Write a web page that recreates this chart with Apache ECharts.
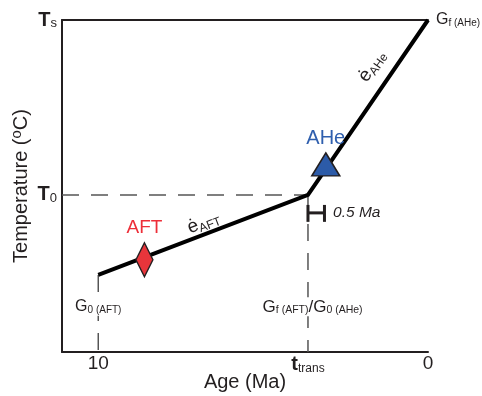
<!DOCTYPE html>
<html>
<head>
<meta charset="utf-8">
<script src="https://cdn.jsdelivr.net/npm/echarts@6/dist/echarts.min.js"></script>
<style>
  html, body { margin: 0; padding: 0; background: #fff; }
  #chart { width: 482px; height: 396px; }
</style>
</head>
<body>
<div id="chart"></div>
<script>
// Thermal history sketch: age (Ma, decreasing to the right) vs. temperature
// on a relative scale where the surface temperature Ts sits at 100.
const FONT = 'Liberation Sans';
const INK = '#231f20';

const pathAge = [10, 3.64, 0];
const pathTemp = [23.2, 47.3, 100];

const tTrans = 3.64;
const T0 = 47.3;
const Ts = 100;

const xTickValues = [10, 3.64, 0];
const xTickNames = ['10', 'ttrans', '0'];
const yTickValues = [47.3, 100];
const yTickNames = ['T0', 'Ts'];

const aftSample = [8.6, 27.8];
const aheSample = [3.1, 56.5];

const errorBarMa = 0.5;                  // horizontal width of the bar
const errorBarTemp = [39.2, 41.9, 44.3]; // leg bottom, bar level, leg top

const chart = echarts.init(document.getElementById('chart'), null, { renderer: 'canvas' });

// rich-text styles for a large letter followed by a small subscript;
// drop sets how far the subscript sits below the main baseline
function subStyles(big, small, bold, drop) {
  return {
    g: { fontFamily: FONT, fontSize: big, fontWeight: bold ? 'bold' : 'normal', color: INK,
         lineHeight: big + drop, verticalAlign: 'top' },
    s: { fontFamily: FONT, fontSize: small, color: INK, lineHeight: small, verticalAlign: 'bottom' },
    n: { fontFamily: FONT, fontSize: big, color: INK, lineHeight: big + drop, verticalAlign: 'top' }
  };
}

const pathData = pathAge.map((a, i) => [a, pathTemp[i]]);
const solid = { opacity: 1 };

const option = {
  animation: false,
  grid: { left: 62, right: 54, top: 20, bottom: 44, containLabel: false, outerBoundsMode: 'none' },
  xAxis: [{
    type: 'value', min: 0, max: 11.1, inverse: true, position: 'bottom',
    axisLine: { show: true, onZero: false, lineStyle: { color: INK, width: 2 } },
    axisTick: { show: false },
    splitLine: { show: false },
    axisLabel: {
      customValues: xTickValues,
      margin: 2,
      formatter: function (v) {
        const i = xTickValues.indexOf(v);
        if (xTickNames[i] === 'ttrans') return '{g|t}{s|trans}';
        return '{n|' + xTickNames[i] + '}';
      },
      rich: Object.assign(subStyles(20, 12, true, 1), {
        n: { fontFamily: FONT, fontSize: 19, color: INK, lineHeight: 21, verticalAlign: 'top' }
      })
    },
    name: 'Age (Ma)', nameLocation: 'middle', nameGap: 20, nameMoveOverlap: false,
    nameTextStyle: { fontFamily: FONT, fontSize: 20, color: INK, verticalAlign: 'top' }
  }, {
    type: 'value', min: 0, max: 11.1, inverse: true, position: 'top',
    axisLine: { show: true, onZero: false, lineStyle: { color: INK, width: 2 } },
    axisTick: { show: false }, axisLabel: { show: false }, splitLine: { show: false }
  }],
  yAxis: {
    type: 'value', min: 0, max: 100,
    axisLine: { show: true, onZero: false, lineStyle: { color: INK, width: 2 } },
    axisTick: { show: false },
    splitLine: { show: false },
    axisLabel: {
      customValues: yTickValues,
      margin: 5,
      formatter: function (v) {
        const name = yTickNames[yTickValues.indexOf(v)];
        return '{g|' + name[0] + '}{s|' + name.slice(1) + '}';
      },
      rich: subStyles(20, 13, true, 0)
    },
    name: '{n|Temperature (}{o|o}{n|C)}', nameLocation: 'middle', nameRotate: 90,
    nameGap: 31, nameMoveOverlap: false,
    nameTextStyle: {
      rich: {
        n: { fontFamily: FONT, fontSize: 20, color: INK, lineHeight: 22, verticalAlign: 'bottom' },
        o: { fontFamily: FONT, fontSize: 15, color: INK, lineHeight: 22, verticalAlign: 'top' }
      }
    }
  },
  series: [
    // reference levels
    {
      type: 'line', silent: true, symbol: 'none', z: 1,
      data: [[11.1, T0], [tTrans, T0]],
      lineStyle: { color: '#555', width: 1.5, type: [17, 12] }
    },
    {
      type: 'line', silent: true, symbol: 'none', z: 1,
      data: [[tTrans, T0], [tTrans, 0]],
      lineStyle: { color: '#555', width: 1.5, type: [17, 12] }
    },
    {
      type: 'line', silent: true, symbol: 'none', z: 1,
      data: [[pathAge[0], pathTemp[0]], [pathAge[0], 0]],
      lineStyle: { color: '#555', width: 1.5, type: [17, 12] }
    },
    // cooling path
    {
      type: 'line', silent: true, symbol: 'none', z: 3,
      data: pathData,
      lineStyle: { color: '#000', width: 4, join: 'miter', cap: 'butt' }
    },
    // 0.5 Ma bar
    {
      type: 'custom', silent: true, z: 4,
      data: [[tTrans, tTrans - errorBarMa, errorBarTemp[0], errorBarTemp[1], errorBarTemp[2]]],
      renderItem: function (params, api) {
        const xa = api.value(0), xb = api.value(1);
        const lo = api.value(2), mid = api.value(3), hi = api.value(4);
        const pa = api.coord([xa, mid]), pb = api.coord([xb, mid]);
        const top = api.coord([xa, hi])[1], bot = api.coord([xa, lo])[1];
        const st = { stroke: INK, lineWidth: 3 };
        return {
          type: 'group',
          children: [
            { type: 'line', shape: { x1: pa[0], y1: pa[1], x2: pb[0], y2: pb[1] }, style: st },
            { type: 'line', shape: { x1: pa[0], y1: top, x2: pa[0], y2: bot }, style: st },
            { type: 'line', shape: { x1: pb[0], y1: top, x2: pb[0], y2: bot }, style: st }
          ]
        };
      }
    },
    // AFT sample
    {
      type: 'scatter', silent: true, z: 5, clip: false,
      symbol: 'diamond', symbolSize: [17, 34],
      itemStyle: { color: '#e8353b', borderColor: INK, borderWidth: 1.5, opacity: 1 },
      data: [aftSample],
      label: {
        show: true, position: 'top', distance: 4, formatter: 'AFT',
        fontFamily: FONT, fontSize: 19, color: '#ed2e38'
      }
    },
    // AHe sample
    {
      type: 'scatter', silent: true, z: 5, clip: false,
      symbol: 'triangle', symbolSize: [28, 23],
      itemStyle: { color: '#2c5ba8', borderColor: INK, borderWidth: 1.5, opacity: 1 },
      data: [aheSample],
      label: {
        show: true, position: 'top', distance: 4, formatter: 'AHe',
        fontFamily: FONT, fontSize: 20, color: '#2f5fae'
      }
    },
    // text annotations
    {
      type: 'scatter', silent: true, z: 6, clip: false, symbolSize: 0,
      itemStyle: solid,
      data: [
        {
          value: [pathAge[2], pathTemp[2]],
          label: { show: true, position: 'right', distance: 8,
                   formatter: '{g|G}{s|f (AHe)}', rich: subStyles(16, 10, false, 0) }
        },
        {
          value: [pathAge[0], 13.6],
          label: { show: true, position: 'inside', formatter: '{g|G}{s|0 (AFT)}',
                   backgroundColor: '#fff', padding: [1, 1],
                   rich: subStyles(16, 10, false, 0) }
        },
        {
          value: [tTrans - 0.14, 13.6],
          label: { show: true, position: 'inside',
                   formatter: '{g|G}{s|f (AFT)}{n|/}{g|G}{s|0 (AHe)}',
                   backgroundColor: '#fff', padding: [1, 1],
                   rich: subStyles(17, 10.5, false, 0) }
        },
        {
          value: [tTrans - 0.76, errorBarTemp[1]],
          label: { show: true, position: 'inside', align: 'left',
                   formatter: '0.5 Ma', fontFamily: FONT, fontSize: 15.5,
                   fontStyle: 'italic', color: INK }
        },
        {
          value: [6.8, 38.8],
          label: { show: true, position: 'inside', rotate: 21,
                   formatter: '{e|ė}{s|AFT}',
                   rich: {
                     e: { fontFamily: FONT, fontSize: 19, color: INK, lineHeight: 20, verticalAlign: 'top' },
                     s: { fontFamily: FONT, fontSize: 12, color: INK, lineHeight: 12, verticalAlign: 'bottom' }
                   } }
        },
        {
          value: [1.68, 86],
          label: { show: true, position: 'inside', rotate: 55,
                   formatter: '{e|ė}{s|AHe}',
                   rich: {
                     e: { fontFamily: FONT, fontSize: 19, color: INK, lineHeight: 20, verticalAlign: 'top' },
                     s: { fontFamily: FONT, fontSize: 12, color: INK, lineHeight: 12, verticalAlign: 'bottom' }
                   } }
        }
      ]
    }
  ]
};

chart.setOption(option);
</script>
</body>
</html>
